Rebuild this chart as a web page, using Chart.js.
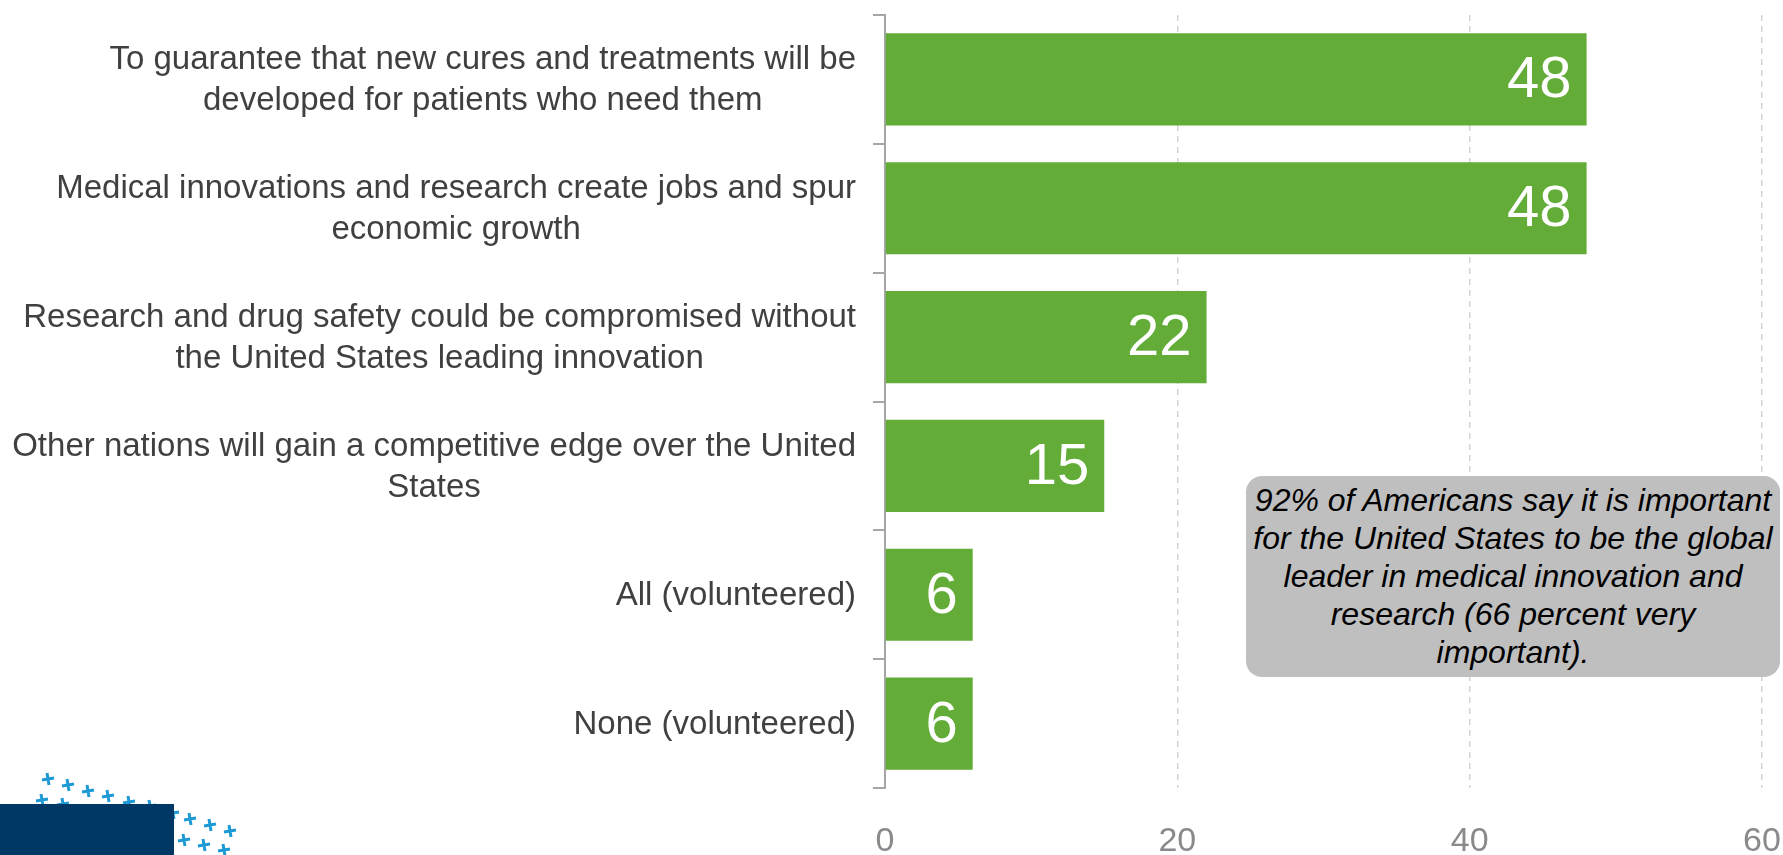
<!DOCTYPE html>
<html>
<head>
<meta charset="utf-8">
<script src="https://cdn.jsdelivr.net/npm/chart.js@4.4.1/dist/chart.umd.min.js"></script>
<style>
  html, body { margin: 0; padding: 0; background: #ffffff; }
  #wrap { position: relative; width: 1783px; height: 855px; overflow: hidden; }
  #note {
    position: absolute; left: 1246px; top: 476px; width: 534px; height: 201px;
    box-sizing: border-box; padding-top: 5px;
    background: #bfbfbf; border-radius: 16px;
    font-family: "Liberation Sans", Arial, sans-serif; font-style: italic;
    font-size: 32px; line-height: 38px; color: #000; text-align: center;
  }
</style>
</head>
<body>
<div id="wrap">
  <canvas id="chart"></canvas>
  <div id="note">92% of Americans say it is important<br>for the United States to be the global<br>leader in medical innovation and<br>research (66 percent very<br>important).</div>
</div>
<script>
// ---- data ----
const categories = [
  ['To guarantee that new cures and treatments will be', 'developed for patients who need them'],
  ['Medical innovations and research create jobs and spur', 'economic growth'],
  ['Research and drug safety could be compromised without', 'the United States leading innovation'],
  ['Other nations will gain a competitive edge over the United', 'States'],
  ['All (volunteered)'],
  ['None (volunteered)']
];
const values = [48, 48, 22, 15, 6, 6];
const xTicks = [0, 20, 40, 60];

const FONT = '"Liberation Sans", Arial, sans-serif';
const GREEN = '#62ac37';

// category labels: each block right aligned, lines centred inside the block
const categoryLabels = {
  id: 'categoryLabels',
  afterDraw(chart) {
    const ctx = chart.ctx;
    const y = chart.scales.y;
    const rightEdge = y.right - 29;
    const lh = 41;
    ctx.save();
    ctx.font = '33px ' + FONT;
    ctx.fillStyle = '#404040';
    ctx.textAlign = 'center';
    ctx.textBaseline = 'middle';
    categories.forEach((lines, i) => {
      const w = Math.max(...lines.map(l => ctx.measureText(l).width));
      const cx = rightEdge - w / 2;
      const cy = y.getPixelForTick(i);
      lines.forEach((l, j) => {
        ctx.fillText(l, cx, cy + (j - (lines.length - 1) / 2) * lh + 1);
      });
    });
    ctx.restore();
  }
};

// value labels inside the end of each bar
const valueLabels = {
  id: 'valueLabels',
  afterDatasetsDraw(chart) {
    const ctx = chart.ctx;
    const meta = chart.getDatasetMeta(0);
    ctx.save();
    ctx.font = '58px ' + FONT;
    ctx.fillStyle = '#ffffff';
    ctx.textAlign = 'right';
    ctx.textBaseline = 'middle';
    meta.data.forEach((bar, i) => {
      ctx.fillText(String(values[i]), bar.x - 15, bar.y + 2);
    });
    ctx.restore();
  }
};

// small logo in the bottom-left corner
const logo = {
  id: 'logo',
  afterDraw(chart) {
    const ctx = chart.ctx;
    const plus = [[48,779],[68,785],[88,791],[108,796],[129,802],[150,806],[42,800],[63,804],
                  [173,813],[190,819],[210,825],[230,831],[184,840],[204,845],[224,850]];
    ctx.save();
    ctx.strokeStyle = '#1d9ad6';
    ctx.lineWidth = 3;
    plus.forEach(([px, py]) => {
      ctx.beginPath();
      ctx.moveTo(px - 6, py + 1); ctx.lineTo(px + 6, py - 1);
      ctx.moveTo(px - 1, py - 6); ctx.lineTo(px + 1, py + 6);
      ctx.stroke();
    });
    ctx.fillStyle = '#003865';
    ctx.fillRect(0, 804, 174, 51);
    ctx.restore();
  }
};

const chart = new Chart(document.getElementById('chart'), {
  type: 'bar',
  data: {
    labels: categories,
    datasets: [{
      data: values,
      backgroundColor: GREEN,
      borderWidth: 0,
      categoryPercentage: 1,
      barPercentage: 0.715
    }]
  },
  options: {
    indexAxis: 'y',
    responsive: true,
    maintainAspectRatio: false,
    animation: false,
    layout: { padding: { top: 15, right: 0, left: 0, bottom: 0 } },
    plugins: { legend: { display: false }, tooltip: { enabled: false } },
    scales: {
      x: {
        min: 0,
        max: 60,
        afterBuildTicks: (s) => { s.ticks = xTicks.map(v => ({ value: v })); },
        afterFit: (s) => { s.height = 67; s.paddingLeft = 0; s.paddingRight = 21; },
        border: { display: false, dash: [6, 5] },
        grid: {
          drawTicks: false,
          color: (c) => c.tick && c.tick.value === 0 ? 'rgba(0,0,0,0)' : '#d4d4d4',
          lineWidth: 1.5
        },
        ticks: {
          color: '#8a8a8a',
          font: { family: FONT, size: 34 },
          padding: 33
        }
      },
      y: {
        afterFit: (s) => { s.width = 885; },
        border: { color: '#a6a6a6', width: 2 },
        grid: {
          drawOnChartArea: false,
          color: '#a6a6a6',
          lineWidth: 2,
          tickLength: 12
        },
        ticks: { display: false }
      }
    }
  },
  plugins: [valueLabels, categoryLabels, logo]
});
</script>
</body>
</html>
